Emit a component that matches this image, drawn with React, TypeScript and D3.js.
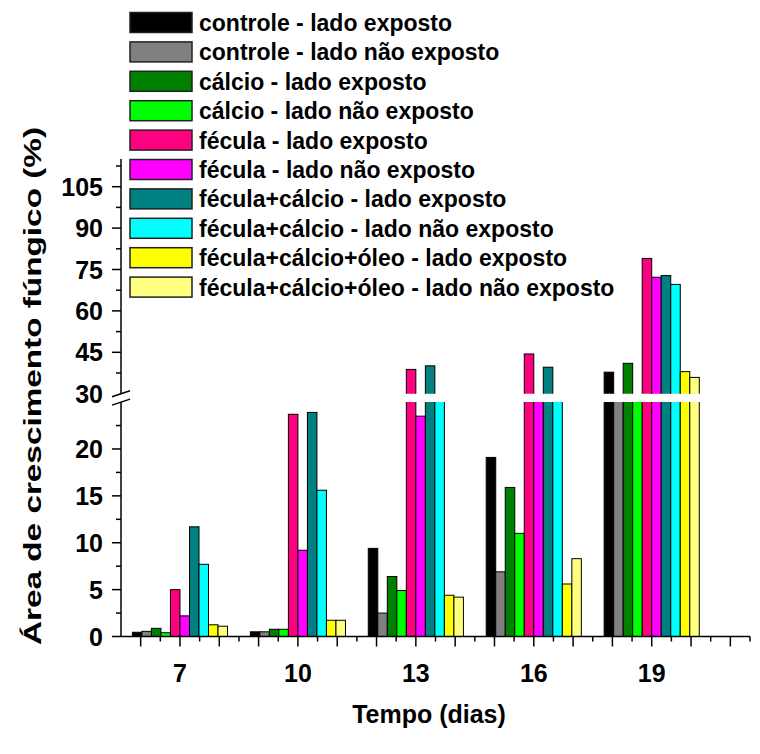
import { useEffect, useRef } from 'react';
import * as d3 from 'd3';

// tempo (dias)
const days = [7, 10, 13, 16, 19];

const seriesNames = [
  'controle - lado exposto',
  'controle - lado não exposto',
  'cálcio - lado exposto',
  'cálcio - lado não exposto',
  'fécula - lado exposto',
  'fécula - lado não exposto',
  'fécula+cálcio - lado exposto',
  'fécula+cálcio - lado não exposto',
  'fécula+cálcio+óleo - lado exposto',
  'fécula+cálcio+óleo - lado não exposto',
];

const seriesColors = [
  '#000000', '#808080', '#008000', '#00FF00', '#FF0080',
  '#FF00FF', '#008080', '#00FFFF', '#FFFF00', '#FFFF80',
];

// área de crescimento fúngico (%) por dia
const controleExp = [0.45, 0.5, 9.4, 19.1, 37.8];
const controleNao = [0.55, 0.5, 2.5, 6.9, 28];
const calcioExp = [0.87, 0.77, 6.4, 15.9, 41.0];
const calcioNao = [0.4, 0.77, 4.9, 11.0, 28];
const feculaExp = [5.0, 23.7, 38.8, 44.4, 79.0];
const feculaNao = [2.2, 9.2, 23.5, 28, 72.2];
const fecCalExp = [11.7, 23.9, 40.1, 39.6, 72.8];
const fecCalNao = [7.7, 15.6, 27, 27, 69.6];
const fecCalOleoExp = [1.25, 1.73, 4.4, 5.6, 38.0];
const fecCalOleoNao = [1.1, 1.73, 4.2, 8.3, 35.9];

const seriesValues = [
  controleExp, controleNao, calcioExp, calcioNao, feculaExp,
  feculaNao, fecCalExp, fecCalNao, fecCalOleoExp, fecCalOleoNao,
];

const lowerTicks = [0, 5, 10, 15, 20];
const upperTicks = [30, 45, 60, 75, 90, 105];

const App = () => {
  const svgRef = useRef<SVGSVGElement | null>(null);

  useEffect(() => {
    if (!svgRef.current) return;
    const svg = d3.select(svgRef.current);
    svg.selectAll('*').remove();

    const font = '"Liberation Sans", Arial, sans-serif';
    const axisX = 121;

    const x = d3.scaleLinear().domain([5.5, 21.5]).range([axisX, 750]);
    const yLow = d3.scaleLinear().domain([0, 25]).range([636.5, 402.1]);
    const yUp = d3.scaleLinear().domain([30, 115]).range([393.7, 159.1]);

    const groupW = x(7) - x(4.58); // ~95px for 10 bars
    const inner = d3.scaleBand<number>()
      .domain(d3.range(seriesNames.length))
      .range([-groupW / 2, groupW / 2]);

    const defs = svg.append('defs');
    defs.append('clipPath').attr('id', 'clipLow')
      .append('rect').attr('x', 0).attr('y', yLow(25)).attr('width', 760).attr('height', yLow(0) - yLow(25) + 1);
    defs.append('clipPath').attr('id', 'clipUp')
      .append('rect').attr('x', 0).attr('y', 0).attr('width', 760).attr('height', yUp(30));

    const bars = seriesNames.flatMap((name, s) =>
      days.map((d, i) => ({ s, d, v: seriesValues[s][i] })));

    // lower segment
    svg.append('g')
      .attr('clip-path', 'url(#clipLow)')
      .selectAll('rect')
      .data(bars)
      .join('rect')
      .attr('x', b => x(b.d) + inner(b.s)!)
      .attr('width', inner.bandwidth())
      .attr('y', b => (b.v > 25 ? yLow(25) - 5 : yLow(b.v)))
      .attr('height', b => yLow(0) - (b.v > 25 ? yLow(25) - 5 : yLow(b.v)))
      .attr('fill', b => seriesColors[b.s])
      .attr('stroke', '#000')
      .attr('stroke-width', 1);

    // upper segment
    svg.append('g')
      .attr('clip-path', 'url(#clipUp)')
      .selectAll('rect')
      .data(bars.filter(b => b.v > 30))
      .join('rect')
      .attr('x', b => x(b.d) + inner(b.s)!)
      .attr('width', inner.bandwidth())
      .attr('y', b => yUp(b.v))
      .attr('height', b => yUp(30) + 5 - yUp(b.v))
      .attr('fill', b => seriesColors[b.s])
      .attr('stroke', '#000')
      .attr('stroke-width', 1);

    // x axis
    const xg = svg.append('g').attr('stroke', '#000').attr('stroke-width', 1.5);
    xg.append('line').attr('x1', axisX).attr('x2', 750).attr('y1', yLow(0)).attr('y2', yLow(0));
    xg.selectAll('line.tk')
      .data(d3.range(6, 22))
      .join('line').attr('class', 'tk')
      .attr('x1', d => x(d)).attr('x2', d => x(d))
      .attr('y1', yLow(0)).attr('y2', yLow(0) + 10);
    xg.selectAll('line.mtk')
      .data(d3.range(6.5, 22, 1))
      .join('line').attr('class', 'mtk')
      .attr('x1', d => x(d)).attr('x2', d => x(d))
      .attr('y1', yLow(0)).attr('y2', yLow(0) + 5);

    svg.append('g')
      .selectAll('text')
      .data(days)
      .join('text')
      .attr('x', d => x(d))
      .attr('y', 682)
      .attr('text-anchor', 'middle')
      .style('font', `bold 25px ${font}`)
      .text(d => d);

    // y axis, two segments with a break
    const yg = svg.append('g').attr('stroke', '#000').attr('stroke-width', 1.5);
    yg.append('line').attr('x1', axisX).attr('x2', axisX).attr('y1', yLow(0)).attr('y2', yLow(25));
    yg.append('line').attr('x1', axisX).attr('x2', axisX).attr('y1', yUp(30)).attr('y2', yUp(115));
    yg.selectAll('line.lt')
      .data(lowerTicks)
      .join('line').attr('class', 'lt')
      .attr('x1', axisX - 9).attr('x2', axisX)
      .attr('y1', d => yLow(d)).attr('y2', d => yLow(d));
    yg.selectAll('line.lm')
      .data(d3.range(2.5, 25, 5))
      .join('line').attr('class', 'lm')
      .attr('x1', axisX - 5).attr('x2', axisX)
      .attr('y1', d => yLow(d)).attr('y2', d => yLow(d));
    yg.selectAll('line.ut')
      .data(upperTicks.filter(d => d > 30))
      .join('line').attr('class', 'ut')
      .attr('x1', axisX - 9).attr('x2', axisX)
      .attr('y1', d => yUp(d)).attr('y2', d => yUp(d));
    yg.selectAll('line.um')
      .data(d3.range(37.5, 115, 15))
      .join('line').attr('class', 'um')
      .attr('x1', axisX - 5).attr('x2', axisX)
      .attr('y1', d => yUp(d)).attr('y2', d => yUp(d));
    // break marks
    [yUp(30), yLow(25)].forEach(yy => {
      yg.append('line')
        .attr('x1', axisX - 9).attr('x2', axisX + 9)
        .attr('y1', yy + 3).attr('y2', yy - 3);
    });

    const yLabels = svg.append('g')
      .attr('text-anchor', 'end')
      .style('font', `bold 25px ${font}`);
    yLabels.selectAll('text.l')
      .data(lowerTicks)
      .join('text').attr('class', 'l')
      .attr('x', 103)
      .attr('y', d => yLow(d) + 9)
      .text(d => d);
    yLabels.selectAll('text.u')
      .data(upperTicks)
      .join('text').attr('class', 'u')
      .attr('x', 103)
      .attr('y', d => yUp(d) + 9)
      .text(d => d);

    // axis titles
    svg.append('text')
      .attr('transform', 'translate(41,645) rotate(-90)')
      .attr('text-anchor', 'start')
      .attr('textLength', 518)
      .attr('lengthAdjust', 'spacingAndGlyphs')
      .style('font', `bold 24px ${font}`)
      .text('Área de crescimento fúngico (%)');

    svg.append('text')
      .attr('x', 429)
      .attr('y', 723)
      .attr('text-anchor', 'middle')
      .style('font', `bold 25px ${font}`)
      .text('Tempo (dias)');

    // legend
    const lg = svg.append('g')
      .selectAll('g')
      .data(seriesNames)
      .join('g')
      .attr('transform', (d, i) => `translate(130,${12.5 + i * 29.4})`);
    lg.append('rect')
      .attr('width', 62)
      .attr('height', 20)
      .attr('fill', (d, i) => seriesColors[i])
      .attr('stroke', '#222')
      .attr('stroke-width', 1.5);
    lg.append('text')
      .attr('x', 69)
      .attr('y', 18.5)
      .style('font', `bold 23px ${font}`)
      .text(d => d);
  }, []);

  return (
    <div style={{ position: 'absolute', left: 0, top: 0 }}>
      <svg ref={svgRef} width={760} height={754} style={{ display: 'block', background: '#fff' }}></svg>
    </div>
  );
};

export default App;
